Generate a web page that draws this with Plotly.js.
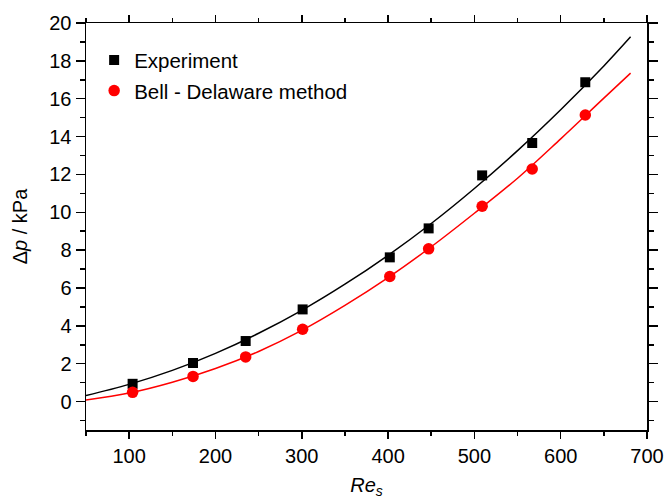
<!DOCTYPE html>
<html>
<head>
<meta charset="utf-8">
<script src="https://cdn.plot.ly/plotly-3.0.1.min.js"></script>
<style>
  html, body { margin: 0; padding: 0; background: #fff; }
  #chart { width: 667px; height: 499px; }
</style>
</head>
<body>
<div id="chart"></div>
<script>
// Shell-side Reynolds numbers of the measured operating points
const reynolds = [104, 174, 235, 301, 402, 447, 509, 567, 628.5];

// Shell-side pressure drop, kPa
const dpExperiment = [0.94, 2.04, 3.2, 4.87, 7.62, 9.15, 11.95, 13.66, 16.87];
const dpBellDelaware = [0.49, 1.33, 2.36, 3.82, 6.61, 8.07, 10.32, 12.29, 15.14];

// Fitted trend curves
const fitRe = [50, 100, 150, 200, 250, 300, 350, 400, 450, 500, 550, 600, 650, 681];
const fitExperiment = [0.32, 0.91, 1.65, 2.55, 3.61, 4.82, 6.2, 7.73, 9.41, 11.26, 13.26, 15.42, 17.73, 19.27];
const fitBellDelaware = [0.09, 0.45, 1.02, 1.75, 2.65, 3.76, 5.08, 6.55, 8.18, 9.95, 11.8, 13.88, 16.03, 17.35];

const FONT = 'Liberation Sans, Arial, sans-serif';
const FS = 20;

const traces = [
  {
    x: fitRe, y: fitExperiment, type: 'scatter', mode: 'lines',
    line: { color: '#000000', width: 1.5, shape: 'spline', smoothing: 1 },
    showlegend: false, hoverinfo: 'skip'
  },
  {
    x: fitRe, y: fitBellDelaware, type: 'scatter', mode: 'lines',
    line: { color: '#ff0000', width: 1.5, shape: 'spline', smoothing: 1 },
    showlegend: false, hoverinfo: 'skip'
  },
  {
    x: reynolds, y: dpExperiment, type: 'scatter', mode: 'markers',
    name: 'Experiment', legendgroup: 'a',
    marker: { symbol: 'square', size: 10, color: '#000000' }
  },
  {
    x: reynolds, y: dpBellDelaware, type: 'scatter', mode: 'markers',
    name: 'Bell - Delaware method', legendgroup: 'b',
    marker: { symbol: 'circle', size: 11.5, color: '#ff0000' }
  }
];

const axisCommon = {
  showline: true, linecolor: '#000000', linewidth: 1.5,
  mirror: 'ticks', ticks: 'outside', tickcolor: '#000000', tickwidth: 1.5,
  showgrid: false, zeroline: false,
  tickfont: { family: FONT, size: FS, color: '#000000' }
};

const layout = {
  width: 667, height: 499,
  margin: { l: 86, r: 19.5, t: 23, b: 69 },
  paper_bgcolor: '#ffffff', plot_bgcolor: '#ffffff',
  font: { family: FONT, size: FS, color: '#000000' },
  showlegend: true,
  legend: {
    x: 0.0145, y: 0.958, xanchor: 'left', yanchor: 'top',
    bgcolor: 'rgba(0,0,0,0)', borderwidth: 0,
    traceorder: 'grouped', tracegroupgap: 1,
    font: { family: FONT, size: 20.5, color: '#000000' }
  },
  xaxis: Object.assign({}, axisCommon, {
    range: [50, 700], tick0: 100, dtick: 100, ticklen: 7,
    minor: { dtick: 50, tick0: 50, ticks: 'outside', ticklen: 4, tickcolor: '#000000', tickwidth: 1.5 },
    title: { text: '<i>Re</i><sub><i>s</i></sub>', font: { family: FONT, size: FS }, standoff: 12 }
  }),
  yaxis: Object.assign({}, axisCommon, {
    range: [-1.5, 20], tick0: 0, dtick: 2, ticklen: 9,
    minor: { dtick: 1, tick0: 0, ticks: 'outside', ticklen: 5, tickcolor: '#000000', tickwidth: 1.5 },
    title: { text: 'Δ<i>p</i> / kPa', font: { family: FONT, size: FS }, standoff: 16 }
  })
};

Plotly.newPlot('chart', traces, layout, { displayModeBar: false, staticPlot: true });
</script>
</body>
</html>
